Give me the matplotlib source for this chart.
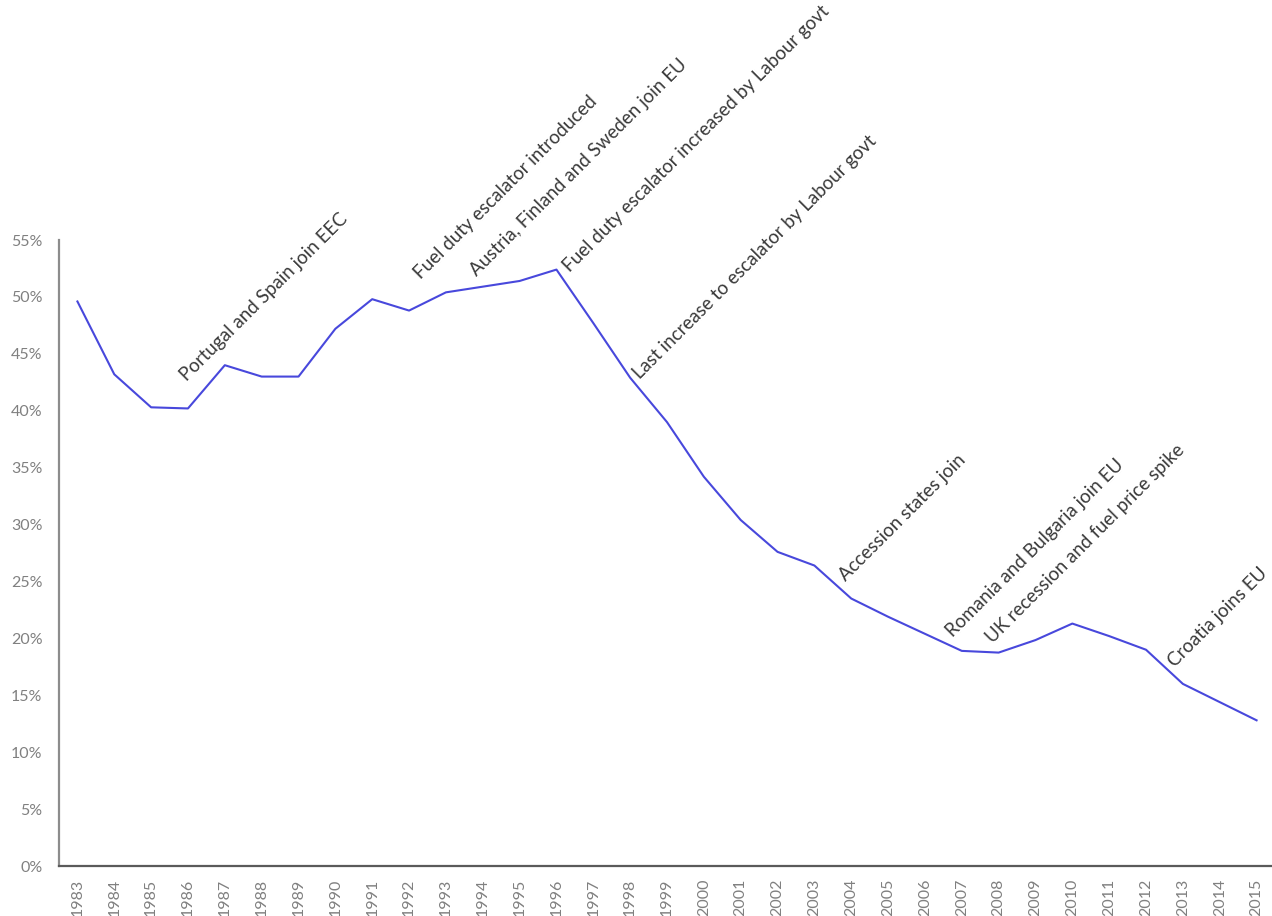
import matplotlib
matplotlib.use("Agg")
import matplotlib.pyplot as plt
from matplotlib.ticker import FuncFormatter, MultipleLocator

years = [str(y) for y in range(1983, 2016)]
share = [49.6, 43.2, 40.3, 40.2, 44.0, 43.0, 43.0, 47.2, 49.8, 48.8,
         50.4, 50.9, 51.4, 52.4, 47.7, 42.9, 39.0, 34.2, 30.4, 27.6,
         26.4, 23.5, 21.9, 20.4, 18.9, 18.75, 19.85, 21.3, 20.2, 19.0,
         16.0, 14.4, 12.8]

event_labels = [
    "Portugal and Spain join EEC",
    "Fuel duty escalator introduced",
    "Austria, Finland and Sweden join EU",
    "Fuel duty escalator increased by Labour govt",
    "Last increase to escalator by Labour govt",
    "Accession states join",
    "Romania and Bulgaria join EU",
    "UK recession and fuel price spike",
    "Croatia joins EU",
]
event_years = ["1986", "1992", "1994", "1996", "1998", "2004", "2007", "2008", "2013"]

# layout: label offsets from the event's data point, in pixels
event_offsets = [(-1.5, 27), (12, 31), (-6, 10), (13, -3), (10, -2),
                 (-5, 17), (-9, 13), (-6, 9), (-8, 16)]

W, H = 1272, 916
fig = plt.figure(figsize=(W / 100, H / 100), dpi=100)
ax = fig.add_axes([59 / W, 1 - 866 / H, (1275 - 59) / W, 626 / H])

x = list(range(len(years)))
ax.plot(x, share, color="#4848dc", lw=1.5, solid_joinstyle="round")

ax.set_xlim(-0.5, len(years) - 0.5)
ax.set_ylim(0, 55)
ax.set_xticks(x)
ax.set_xticklabels(years, rotation=90, fontsize=11.5, color="#808080", family="Lato")
ax.yaxis.set_major_locator(MultipleLocator(5))
ax.yaxis.set_major_formatter(FuncFormatter(lambda v, p: f"{v:.0f}%"))
for lab in ax.get_yticklabels():
    lab.set_fontsize(11.5)
    lab.set_color("#808080")
    lab.set_family("Lato")
ax.tick_params(axis="x", length=0, pad=9)
ax.tick_params(axis="y", length=0, pad=12)

for s in ("top", "right"):
    ax.spines[s].set_visible(False)
ax.spines["left"].set_color("#8c8c8c")
ax.spines["left"].set_linewidth(1.6)
ax.spines["bottom"].set_color("#5a5a5a")
ax.spines["bottom"].set_linewidth(1.6)

for lab, yr, (dx, dy) in zip(event_labels, event_years, event_offsets):
    i = years.index(yr)
    ax.annotate(lab, xy=(i, share[i]), xytext=(dx, dy), textcoords="offset pixels",
                rotation=45, rotation_mode="anchor", ha="left", va="baseline",
                fontsize=13.5, color="#3a3a3a", family="Lato", annotation_clip=False)

fig.savefig("out.png", dpi=100)
